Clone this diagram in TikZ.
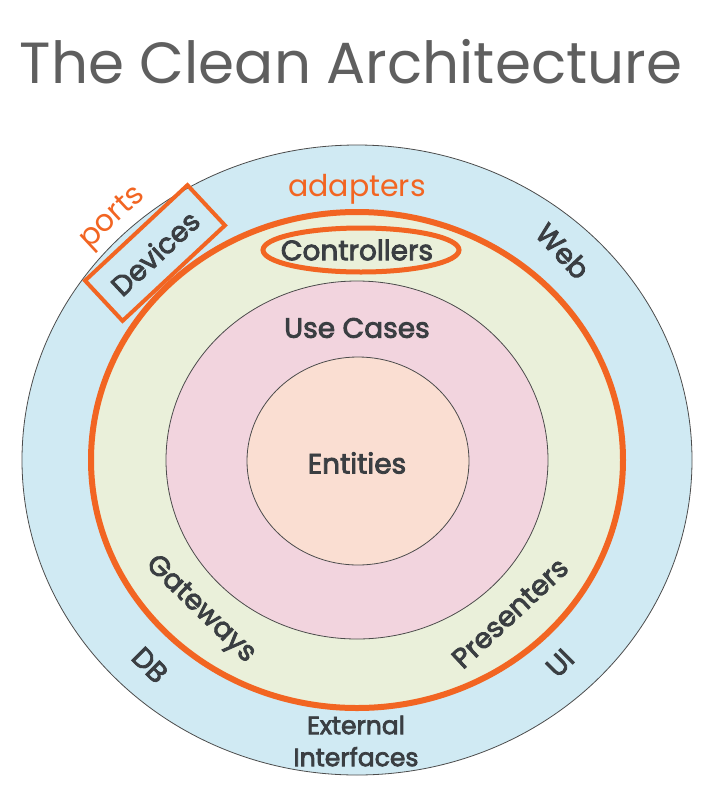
\documentclass[tikz,border=0pt]{standalone}
\usepackage{fontspec}
\setmainfont{Poppins}
\newfontfamily\labelfont{Poppins}[FakeBold=3]
\usetikzlibrary{shapes.geometric}
\definecolor{cleanorange}{RGB}{242,101,34}
\definecolor{outerblue}{RGB}{208,234,243}
\definecolor{adaptgreen}{RGB}{234,240,218}
\definecolor{casepink}{RGB}{242,212,222}
\definecolor{entpeach}{RGB}{250,222,210}
\definecolor{inkgray}{RGB}{58,62,66}
\definecolor{titlegray}{RGB}{95,95,95}
\tikzset{
  ring/.style={draw=black!70, line width=0.8pt},
  lbl/.style={text=inkgray, font=\fontsize{28}{32}\labelfont, inner sep=0pt},
  note/.style={text=cleanorange, font=\fontsize{30}{34}\selectfont, inner sep=0pt},
}

\begin{document}
\begin{tikzpicture}[x=1pt,y=-1pt]
\useasboundingbox (0,0) rectangle (712,788);
\fill[white] (0,0) rectangle (712,788);
\coordinate (c) at (357,460);

% rings, outside in
\draw[ring, fill=outerblue] (c) ellipse [x radius=335pt, y radius=315pt];
\draw[cleanorange, line width=6pt, fill=adaptgreen] (c) ellipse [x radius=266pt, y radius=248pt];
\draw[ring, fill=casepink] (c) ellipse [x radius=191pt, y radius=179pt];
\draw[ring, fill=entpeach] (358,461) ellipse [x radius=111pt, y radius=104pt];

\node[text=titlegray, font=\fontsize{58}{62}\selectfont, inner sep=0pt] (title) at (351,62) {The Clean Architecture};

\node[note] (adapters) at (357,189) {adapters};
\node[note, rotate=43] (ports) at (113,218) {ports};

\node[lbl] (ctrl) at (357,250) {Controllers};
\draw[cleanorange, line width=5pt] (361,250) ellipse [x radius=98pt, y radius=22pt];
\node[lbl, draw=cleanorange, line width=4pt, minimum width=140pt, minimum height=55pt, rotate=43] (dev) at (155,253) {Devices};
\node[lbl] (usecases) at (357,328) {Use Cases};
\node[lbl] (entities) at (357,463) {Entities};
\node[lbl, rotate=-47] (web) at (563,251) {Web};
\node[lbl, rotate=-44] (gateways) at (200,610) {Gateways};
\node[lbl, rotate=-45] (db) at (150,665) {DB};
\node[lbl, rotate=43] (presenters) at (510,613) {Presenters};
\node[lbl, rotate=45] (ui) at (560,663) {UI};
\node[lbl, font=\fontsize{25}{32}\labelfont, align=center] (ext) at (356,741) {External\\Interfaces};
\end{tikzpicture}
\end{document}
